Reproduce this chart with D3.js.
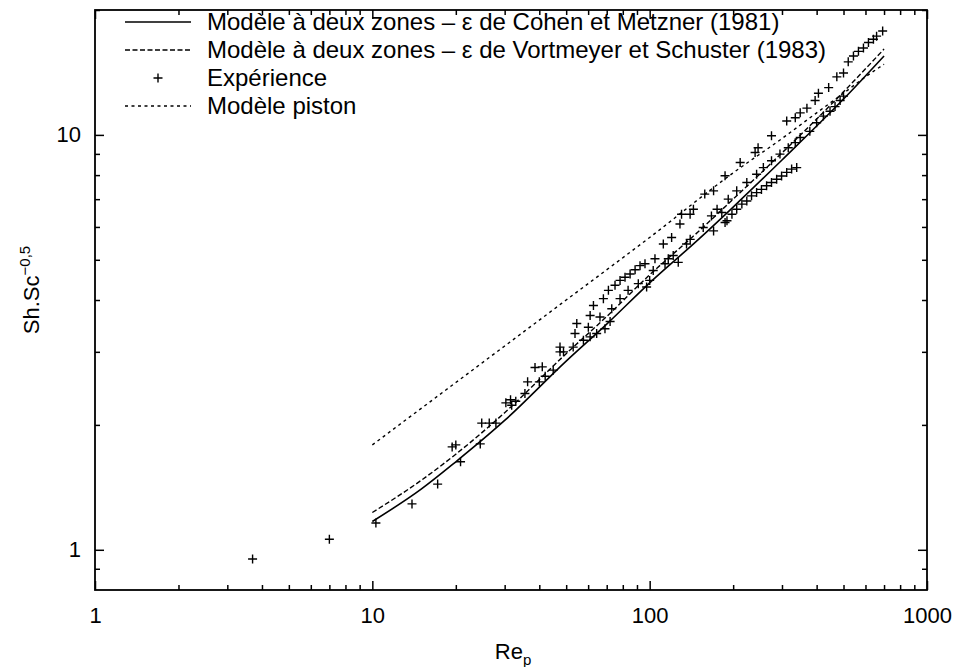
<!DOCTYPE html>
<html><head><meta charset="utf-8">
<script src="https://cdn.jsdelivr.net/npm/d3@7"></script>
<style>
body{margin:0;background:#fff;}
text{font-family:"Liberation Sans",Arial,Helvetica,sans-serif;fill:#000;}
</style></head>
<body><svg id="c" width="958" height="667"></svg>
<script>
// ---- data ----
const xTickLabels = [1, 10, 100, 1000];
const yTickLabels = [1, 10];
const legendLabels = [
  "Modèle à deux zones – ε de Cohen et Metzner (1981)",
  "Modèle à deux zones – ε de Vortmeyer et Schuster (1983)",
  "Expérience",
  "Modèle piston"
];
const modelRe = [10, 15, 20, 30, 50, 70, 100, 150, 200, 300, 500, 700];
const cohenSh = [1.17, 1.40, 1.63, 2.05, 2.85, 3.5, 4.4, 5.6, 6.7, 8.7, 12.2, 15.5];
const vortSh  = [1.23, 1.47, 1.70, 2.14, 2.97, 3.65, 4.6, 5.85, 7.0, 9.05, 12.7, 16.1];
const pistonRe = [10, 20, 50, 100, 200, 300, 400, 500, 600, 700];
const pistonSh = [1.79, 2.53, 4.0, 5.66, 8.1, 9.8, 11.3, 12.6, 13.8, 14.8];
const expRe = [3.7, 7.0, 10.3, 13.9, 17.2, 19.4, 20.0, 20.8, 24.5, 24.8, 26.4, 27.9, 30.3, 31.5, 31.8, 32.9, 35.5, 36.3, 40.0, 38.6, 41, 42, 44.9,
  47.5, 47.5, 48.9, 53, 57.7, 61, 64.4, 69, 72, 78.2, 83.6, 91, 97.5, 100, 103, 113.6, 116.7, 121.6, 126.8, 135.8, 140, 156, 170, 167, 175, 182, 192, 206, 224, 243, 257, 275, 295, 316, 335, 349, 378, 400, 423, 447, 466, 486, 500,
  53.8, 54.6, 60.1, 61, 62.7, 66.2, 68.1, 71, 73, 75, 78.2, 81.5, 85, 88.6, 92.3, 96.2, 104.5, 112, 120, 128.6, 130.3, 139.9, 143.8, 158, 170, 187, 212, 240, 246, 275, 312, 335, 349, 369, 395, 406, 442, 473, 500, 520, 543, 566, 590, 615, 641, 658, 692,
  187, 190, 198, 206, 215, 224, 233, 243, 253, 264, 275, 287, 299, 312, 325, 339];
const expSh = [0.95, 1.06, 1.16, 1.29, 1.44, 1.77, 1.79, 1.63, 1.80, 2.02, 2.02, 2.02, 2.26, 2.30, 2.23, 2.28, 2.38, 2.54, 2.54, 2.75, 2.76, 2.62, 2.71,
  3.08, 3.0, 3.0, 3.08, 3.2, 3.26, 3.32, 3.41, 3.55, 4.03, 4.22, 4.38, 4.30, 4.46, 4.71, 4.89, 5.03, 5.12, 4.93, 5.46, 5.6, 5.98, 5.87, 6.38, 6.62, 6.5, 7.0, 7.33, 7.68, 8.04, 8.34, 8.66, 8.99, 9.31, 9.58, 9.86, 10.2, 10.7, 11.1, 11.4, 11.7, 12.1, 12.4,
  3.32, 3.51, 3.44, 3.67, 3.88, 3.64, 4.03, 4.22, 3.81, 4.34, 4.46, 4.54, 4.62, 4.73, 4.84, 4.89, 5.03, 5.46, 5.66, 6.10, 6.44, 6.44, 6.62, 7.2, 7.33, 7.97, 8.58, 9.07, 9.31, 9.95, 10.8, 11.0, 11.3, 11.6, 12.1, 12.6, 13.0, 13.8, 14.1, 15.0, 15.5, 15.9, 16.2, 16.7, 17.0, 17.3, 17.8,
  6.15, 6.21, 6.44, 6.62, 6.81, 6.93, 7.13, 7.26, 7.39, 7.54, 7.68, 7.82, 7.96, 8.12, 8.27, 8.34];

// ---- layout ----
const L = 95, R = 927, T = 10, B = 590;
const svg = d3.select("#c");
const x = d3.scaleLog().domain([1, 1000]).range([L, R]);
const y = d3.scaleLog().domain([0.8, 20]).range([B, T]);

const xMinor = [];
[1, 10, 100].forEach(d => { for (let k = 2; k <= 9; k++) xMinor.push(d * k); });
const yMinor = [0.9, 2, 3, 4, 5, 6, 7, 8, 9, 20];

function styleAxis(g) {
  g.select(".domain").remove();
  g.selectAll(".tick line").attr("stroke", "#000").attr("stroke-width", 1.5);
  g.selectAll("text").style("font-size", "22px").attr("fill", "#000");
}
// bottom
svg.append("g").attr("transform", `translate(0,${B})`)
  .call(d3.axisBottom(x).tickValues(xTickLabels).tickSize(-9).tickPadding(17).tickFormat(d3.format("d"))).call(styleAxis);
svg.append("g").attr("transform", `translate(0,${B})`)
  .call(d3.axisBottom(x).tickValues(xMinor).tickSize(-5).tickFormat("")).call(styleAxis);
// top
svg.append("g").attr("transform", `translate(0,${T})`)
  .call(d3.axisTop(x).tickValues(xTickLabels).tickSize(-9).tickFormat("")).call(styleAxis);
svg.append("g").attr("transform", `translate(0,${T})`)
  .call(d3.axisTop(x).tickValues(xMinor).tickSize(-5).tickFormat("")).call(styleAxis);
// left
svg.append("g").attr("transform", `translate(${L},0)`)
  .call(d3.axisLeft(y).tickValues(yTickLabels).tickSize(-9).tickPadding(14).tickFormat(d3.format("d"))).call(styleAxis);
svg.append("g").attr("transform", `translate(${L},0)`)
  .call(d3.axisLeft(y).tickValues(yMinor).tickSize(-5).tickFormat("")).call(styleAxis);
// right
svg.append("g").attr("transform", `translate(${R},0)`)
  .call(d3.axisRight(y).tickValues(yTickLabels).tickSize(-9).tickFormat("")).call(styleAxis);
svg.append("g").attr("transform", `translate(${R},0)`)
  .call(d3.axisRight(y).tickValues(yMinor).tickSize(-5).tickFormat("")).call(styleAxis);

// frame
svg.append("rect").attr("x", L).attr("y", T).attr("width", R - L).attr("height", B - T)
  .attr("fill", "none").attr("stroke", "#000").attr("stroke-width", 1.8);

// lines
const line = d3.line().x(d => x(d[0])).y(d => y(d[1])).curve(d3.curveMonotoneX);
const styles = [
  {dash: null, w: 1.6},
  {dash: "5,2.5", w: 1.4},
  null,
  {dash: "3,3.5", w: 1.4}
];
svg.append("path").datum(modelRe.map((r, i) => [r, cohenSh[i]])).attr("d", line)
  .attr("fill", "none").attr("stroke", "#000").attr("stroke-width", styles[0].w);
svg.append("path").datum(modelRe.map((r, i) => [r, vortSh[i]])).attr("d", line)
  .attr("fill", "none").attr("stroke", "#000").attr("stroke-width", styles[1].w).attr("stroke-dasharray", styles[1].dash);
svg.append("path").datum(pistonRe.map((r, i) => [r, pistonSh[i]])).attr("d", line)
  .attr("fill", "none").attr("stroke", "#000").attr("stroke-width", styles[3].w).attr("stroke-dasharray", styles[3].dash);

// points
const plus = "M-4.5,0H4.5M0,-4.5V4.5";
svg.append("g").selectAll("path").data(expRe.map((r, i) => [r, expSh[i]])).join("path")
  .attr("transform", d => `translate(${x(d[0])},${y(d[1])})`)
  .attr("d", plus).attr("stroke", "#000").attr("stroke-width", 1.4).attr("fill", "none");

// legend
const legRows = [22, 50, 78, 106];
const lg = svg.append("g");
legendLabels.forEach((lab, i) => {
  const yy = legRows[i];
  if (i === 2) {
    lg.append("path").attr("transform", `translate(158,${yy})`).attr("d", plus)
      .attr("stroke", "#000").attr("stroke-width", 1.4);
  } else {
    lg.append("line").attr("x1", 125).attr("x2", 191).attr("y1", yy).attr("y2", yy)
      .attr("stroke", "#000").attr("stroke-width", styles[i].w)
      .attr("stroke-dasharray", styles[i].dash);
  }
  lg.append("text").attr("x", 207).attr("y", yy + 8).style("font-size", "24px").text(lab);
});

// axis titles
const xt = svg.append("text").attr("x", 513).attr("y", 659).attr("text-anchor", "middle").style("font-size", "22px");
xt.append("tspan").text("Re");
xt.append("tspan").attr("dy", 6).style("font-size", "15px").text("p");

const yt = svg.append("text").attr("transform", "translate(39,290) rotate(-90)").attr("text-anchor", "middle").style("font-size", "22px");
yt.append("tspan").text("Sh.Sc");
yt.append("tspan").attr("dy", -9).style("font-size", "15px").text("−0,5");
</script></body></html>
